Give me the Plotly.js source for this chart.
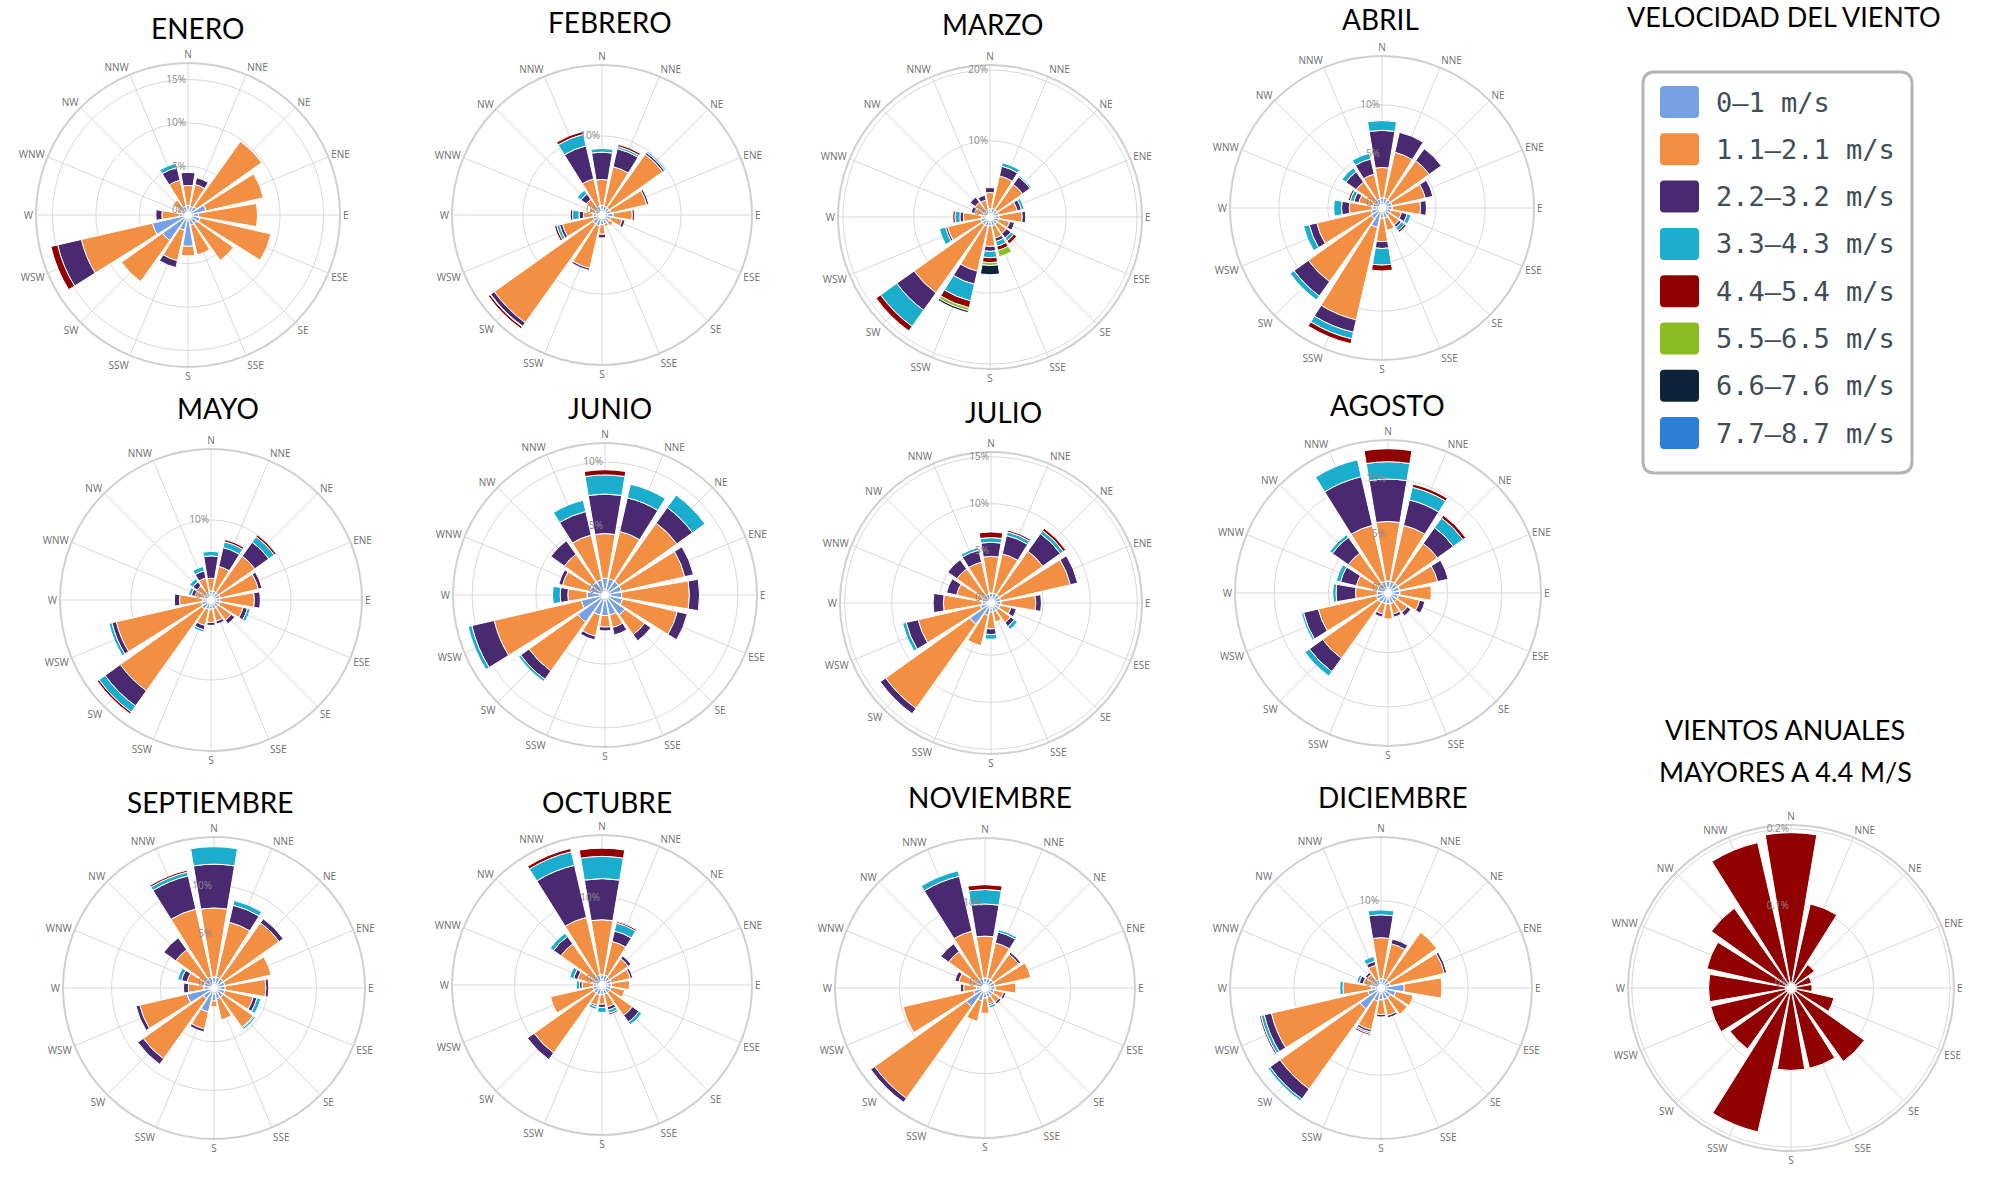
<!DOCTYPE html>
<html>
<head>
<meta charset="utf-8">
<script src="https://cdn.plot.ly/plotly-3.0.1.min.js"></script>
<style>
  html, body { margin: 0; padding: 0; background: #ffffff; }
  #chart { width: 1992px; height: 1178px; }
</style>
</head>
<body>
<div id="chart"></div>
<script>
// Compass sectors, clockwise from north
const directions = ['N','NNE','NE','ENE','E','ESE','SE','SSE','S','SSW','SW','WSW','W','WNW','NW','NNW'];

// Wind speed classes and their colours
const speedBins = ['0–1 m/s','1.1–2.1 m/s','2.2–3.2 m/s','3.3–4.3 m/s','4.4–5.4 m/s','5.5–6.5 m/s','6.6–7.6 m/s','7.7–8.7 m/s'];
const binColors = ['#77a1e5','#f28f43','#492970','#1aadce','#910000','#8bbc21','#0d233a','#2f7ed8'];

// Monthly frequency (%) per direction; one row per speed class, in the order of speedBins
const enero = [
  [0.5,0.4,0.6,1.5,0.6,0.8,0.6,0.6,3.0,1.2,3.0,3.6,0.4,0.2,0.3,0.4],
  [2.3,2.6,9.2,6.8,6.8,8.4,5.2,3.5,1.1,3.6,5.8,8.4,2.0,0.5,1.2,3.1],
  [1.5,0.8,0,0,0,0,0,0,0,0.8,0,2.8,0.7,0,0,1.5],
  [0,0,0,0,0,0,0,0,0,0,0,0,0,0,0,0.5],
  [0,0,0,0,0,0,0,0,0,0,0,0.8,0,0,0,0]
];
const febrero = [
  [0.6,0.5,0.5,0.5,0.8,0.5,0.5,0.5,0.6,0.8,0.8,0.5,0.5,0.3,0.4,0.5],
  [3.5,5.5,8.9,5.0,2.6,1.6,0.6,0.4,1.3,5.9,16.4,4.3,1.3,0.8,1.5,3.8],
  [3.7,2.5,0.3,0.3,0.3,0.4,0,0,0.5,0.3,0.6,0.4,0.6,0,0.9,4.6],
  [0.5,0.3,0.2,0,0,0,0,0,0,0,0.1,0.4,0.9,0,0.6,1.6],
  [0,0.3,0,0,0,0,0,0,0,0,0.3,0.3,0.3,0,0,0.4]
];
const marzo = [
  [0.4,0.5,0.5,0.5,0.5,0.5,0.5,0.5,0.5,0.6,0.6,0.6,0.4,0.3,0.3,0.3],
  [2.3,4.7,4.4,2.7,3.3,1.6,1.6,1.8,2.9,6.5,11.8,4.8,2.6,1.2,1.5,1.4],
  [0.7,1.4,1.3,0.6,0.5,0.7,0.8,0.5,0.7,1.9,3.0,0.3,0.5,0.5,0.9,0.7],
  [0,0.5,0.2,0.4,0,0,0.5,0.7,0.9,2.4,2.8,0.9,0.7,0,0,0],
  [0,0,0,0,0,0,0.5,0.6,0.7,1.0,0.8,0,0.3,0,0,0],
  [0,0,0,0,0,0,0,0.9,0.4,0.4,0,0,0,0,0,0],
  [0,0,0,0,0,0,0,0,1.3,0.3,0,0,0,0,0,0]
];
const abril = [
  [0.5,0.5,0.5,0.5,0.5,0.4,0.4,0.5,0.5,1.5,0.8,0.6,0.4,0.4,0.4,0.4],
  [3.1,4.8,4.9,3.5,2.9,1.1,1.2,1.3,2.4,9.7,7.9,5.7,2.4,1.5,2.3,2.6],
  [3.8,2.1,1.5,0.8,0.6,0.6,0.3,0,0.7,1.3,1.8,0.8,0.8,0.5,1.3,1.6],
  [1.0,0,0,0,0,0.4,0.4,0,1.7,0.7,0.5,0.6,0.8,0.4,0.5,0.6],
  [0,0,0,0,0,0,0.2,0,0.6,0.5,0,0,0,0.2,0,0]
];
const mayo = [
  [0.5,0.5,0.5,0.5,0.5,0.5,0.5,0.5,0.5,0.6,0.8,0.6,0.4,0.3,0.3,0.3],
  [1.7,3.4,6.0,5.3,4.6,3.2,2.1,1.7,1.8,2.2,13.4,11.7,3.1,1.2,1.3,2.0],
  [3.0,2.6,2.3,0.5,0.8,0.6,0.6,0.4,0.4,0.6,2.5,0.6,0.7,0.5,0.7,1.0],
  [0.6,0.8,0.9,0,0,0.4,0,0,0,0.3,1.0,0.4,0,0.4,0.5,0.6],
  [0,0.3,0.3,0,0,0,0,0,0,0,0.3,0,0,0,0,0]
];
const junio = [
  [0.9,0.9,0.9,0.9,0.9,1.0,1.5,1.2,1.2,1.2,2.2,1.5,1.0,0.8,0.8,0.8],
  [3.5,3.8,5.6,5.1,5.3,4.4,1.9,1.0,0.9,1.7,4.7,7.0,1.5,2.2,2.7,3.6],
  [3.1,2.7,1.5,0.7,0.8,0.8,0.6,0.6,0.3,0.3,0.8,1.8,0.6,0.3,1.3,1.9],
  [1.5,1.1,1.2,0,0,0,0,0,0,0,0.2,0.3,0.6,0,0,0.9],
  [0.4,0,0,0,0,0,0,0,0,0,0,0,0,0,0,0]
];
const julio = [
  [0.5,0.5,0.5,0.5,0.5,0.4,0.4,0.4,0.4,0.8,2.2,0.6,0.4,0.4,0.4,0.4],
  [3.9,4.3,5.7,7.6,3.7,1.2,1.6,1.1,1.8,3.3,11.0,6.8,4.1,2.8,3.5,3.5],
  [1.5,2.0,2.3,0.8,0.6,0.6,0.5,0,0.6,0,0.7,1.3,1.1,1.1,1.2,1.3],
  [0.5,0.4,0.4,0,0,0,0.4,0,0.5,0,0,0.4,0,0,0,0.3],
  [0.6,0.2,0.3,0,0,0,0,0,0,0,0,0,0,0,0,0]
];
const agosto = [
  [0.6,0.6,0.6,0.6,0.6,0.5,0.5,0.5,0.5,0.5,0.6,0.6,0.5,0.5,0.5,0.6],
  [5.5,5.3,4.5,3.6,2.9,2.0,1.2,1.0,1.4,1.0,6.3,5.5,2.0,2.0,3.5,5.3],
  [3.9,2.4,1.8,1.0,0,0.5,0.4,0.3,0,0.3,1.5,1.4,1.8,1.5,1.8,4.6],
  [1.6,1.2,1.1,0,0,0,0,0,0,0,0.5,0.2,0.3,0.4,0.3,1.6],
  [1.2,0.3,0.3,0,0,0,0,0,0,0,0,0,0,0,0,0]
];
const septiembre = [
  [0.6,0.6,0.6,0.6,0.6,0.6,0.6,0.6,0.8,2.0,0.8,2.3,0.5,0.5,0.5,0.6],
  [7.1,5.8,7.1,4.9,4.2,3.0,3.8,2.2,0.6,1.8,7.6,5.0,1.6,1.8,3.8,7.2],
  [4.5,1.8,0.5,0,0.3,0.4,0.1,0,0,0.3,0.7,0.4,0.5,0.6,1.5,3.5],
  [1.8,0.5,0,0,0,0.4,0.2,0,0,0,0,0,0,0.4,0,0.4],
  [0,0,0,0,0,0,0,0,0,0,0,0,0,0,0,0.2]
];
const octubre = [
  [0.6,0.6,0.5,0.5,0.5,0.5,0.5,0.5,0.5,0.6,0.6,0.5,0.4,0.4,0.5,0.6],
  [6.7,4.2,2.8,2.4,2.2,1.7,3.4,1.6,1.2,1.3,8.9,5.3,1.4,2.0,5.0,7.2],
  [5.0,1.3,0.4,0.3,0,0,1.0,0.4,0.4,0.2,1.0,0,0.3,0.5,1.1,6.5],
  [2.7,1.0,0,0,0,0,0.4,0.4,0.6,0.3,0,0,0.4,0.5,0.5,1.7],
  [1.0,0.2,0,0,0,0,0,0.2,0,0,0,0,0,0,0,0.4]
];
const noviembre = [
  [0.6,0.6,0.6,0.6,0.6,0.5,0.5,0.5,0.6,1.0,2.2,0.8,0.4,0.4,0.5,0.6],
  [5.2,4.5,3.9,4.6,2.6,1.2,1.0,0.9,1.9,2.6,14.0,9.0,1.6,2.3,4.4,6.0],
  [4.0,1.4,0.3,0,0,0.3,0.3,0.2,0,0,0.6,0,0.4,0.5,1.2,7.0],
  [1.8,0.3,0,0,0,0,0,0.3,0,0,0,0,0,0,0,0.7],
  [0.6,0,0,0,0,0,0,0,0,0,0,0,0,0,0,0]
];
const diciembre = [
  [0.5,0.5,0.5,0.5,2.2,1.2,0.8,0.8,0.8,1.0,2.5,1.0,0.5,0.4,0.4,0.4],
  [5.0,4.4,7.2,6.8,4.6,2.2,2.5,2.0,1.8,3.6,12.0,12.1,3.5,1.2,1.0,1.8],
  [2.8,0.6,0,0.3,0,0,0,0.3,0.3,0.3,1.5,0.9,0,0.5,0.3,0.5],
  [0.6,0,0,0,0,0,0,0,0,0.2,0.3,0.4,0.4,0.3,0,0.6],
  [0,0,0,0,0,0,0,0,0,0.2,0,0.2,0,0,0,0]
];

// Yearly frequency (%) of winds above 4.4 m/s
const anualMayor44 = [0.195,0.105,0.03,0.02,0.02,0.05,0.11,0.10,0.10,0.185,0.09,0.10,0.10,0.105,0.12,0.187];

const monthNames = ['ENERO','FEBRERO','MARZO','ABRIL','MAYO','JUNIO','JULIO','AGOSTO','SEPTIEMBRE','OCTUBRE','NOVIEMBRE','DICIEMBRE'];
const monthData = [enero, febrero, marzo, abril, mayo, junio, julio, agosto, septiembre, octubre, noviembre, diciembre];

// Radial axis extent and rings for each rose
const radialMax = [16.9, 19.6, 20.7, 15.0, 19.5, 11.5, 15.5, 13.6, 15.0, 17.6, 18.0, 17.8];
const radialTicks = [[0,5,10,15],[0,10],[0,10,20],[0,5,10],[0,10],[0,5,10],[0,5,10,15],[0,5,10],[0,5,10],[0,10],[0,10],[0,10]];

// Page placement of each rose (pixels): centre, radius, title position
const W = 1992, H = 1178;
const placement = [
  {cx:188,  cy:215, r:152, tx:197,  ty:28},
  {cx:602,  cy:215, r:150, tx:610,  ty:22},
  {cx:990,  cy:217, r:152, tx:992,  ty:24},
  {cx:1382, cy:208, r:152, tx:1380, ty:19},
  {cx:211,  cy:600, r:151, tx:218,  ty:408},
  {cx:605,  cy:595, r:152, tx:610,  ty:408},
  {cx:991,  cy:603, r:151, tx:1003, ty:412},
  {cx:1388, cy:593, r:153, tx:1387, ty:405},
  {cx:214,  cy:988, r:151, tx:210,  ty:802},
  {cx:602,  cy:985, r:150, tx:607,  ty:802},
  {cx:985,  cy:988, r:150, tx:990,  ty:797},
  {cx:1381, cy:988, r:151, tx:1393, ty:797}
];
const anualPlacement = {cx:1791, cy:988, r:163};

const gridColor = '#d9d9d9';
const labelColor = '#6e6e6e';

function domainFor(p) {
  return {
    x: [(p.cx - p.r) / W, (p.cx + p.r) / W],
    y: [1 - (p.cy + p.r) / H, 1 - (p.cy - p.r) / H]
  };
}

function polarLayout(p, max, ticks, fmt) {
  return {
    domain: domainFor(p),
    bgcolor: 'rgba(0,0,0,0)',
    hole: 0.035,
    bargap: 0.15,
    barmode: 'stack',
    angularaxis: {
      type: 'category',
      categoryarray: directions,
      rotation: 90,
      direction: 'clockwise',
      showline: true,
      linecolor: '#d0d0d0',
      linewidth: 2,
      gridcolor: gridColor,
      gridwidth: 1,
      ticks: '',
      layer: 'below traces',
      tickfont: {family: 'Open Sans, sans-serif', size: 10, color: labelColor}
    },
    radialaxis: {
      range: [0, max],
      tickvals: ticks,
      ticktext: ticks.map(fmt),
      angle: 90,
      tickangle: 90,
      side: 'counterclockwise',
      showline: false,
      ticks: '',
      gridcolor: gridColor,
      gridwidth: 1,
      layer: 'above traces',
      tickfont: {family: 'Open Sans, sans-serif', size: 10, color: '#8a8a8a'}
    }
  };
}

const traces = [];
const layout = {
  width: W, height: H,
  margin: {l: 0, r: 0, t: 0, b: 0},
  paper_bgcolor: '#ffffff',
  showlegend: false,
  annotations: [],
  shapes: []
};

monthData.forEach((rows, m) => {
  const key = m === 0 ? 'polar' : 'polar' + (m + 1);
  layout[key] = polarLayout(placement[m], radialMax[m], radialTicks[m], v => v + '%');
  rows.forEach((vals, b) => {
    traces.push({
      type: 'barpolar',
      subplot: key,
      name: speedBins[b],
      r: vals.map(v => (v > 0 ? v : null)),
      theta: directions,
      marker: {color: binColors[b], line: {color: '#ffffff', width: 1}},
      hoverinfo: 'skip'
    });
  });
  layout.annotations.push({
    xref: 'paper', yref: 'paper',
    x: placement[m].tx / W, y: 1 - placement[m].ty / H,
    xanchor: 'center', yanchor: 'middle',
    text: monthNames[m], showarrow: false,
    font: {family: 'Lato, sans-serif', size: 28, color: '#000000'}
  });
});

// Yearly rose of winds above 4.4 m/s
layout.polar13 = polarLayout(anualPlacement, 0.205, [0, 0.1, 0.2], v => v + '%');
traces.push({
  type: 'barpolar',
  subplot: 'polar13',
  name: speedBins[4],
  r: anualMayor44,
  theta: directions,
  marker: {color: binColors[4], line: {color: '#ffffff', width: 1}},
  hoverinfo: 'skip'
});
[['VIENTOS ANUALES', 729], ['MAYORES A 4.4 M/S', 771]].forEach(([t, y]) => {
  layout.annotations.push({
    xref: 'paper', yref: 'paper', x: 1785 / W, y: 1 - y / H,
    xanchor: 'center', yanchor: 'middle', text: t, showarrow: false,
    font: {family: 'Lato, sans-serif', size: 27, color: '#000000'}
  });
});

// Speed legend
function roundRectPath(x0, y0, x1, y1, rad) {
  const px = v => (v / W).toFixed(5);
  const py = v => (1 - v / H).toFixed(5);
  return 'M' + px(x0 + rad) + ',' + py(y0) +
    ' L' + px(x1 - rad) + ',' + py(y0) +
    ' Q' + px(x1) + ',' + py(y0) + ' ' + px(x1) + ',' + py(y0 + rad) +
    ' L' + px(x1) + ',' + py(y1 - rad) +
    ' Q' + px(x1) + ',' + py(y1) + ' ' + px(x1 - rad) + ',' + py(y1) +
    ' L' + px(x0 + rad) + ',' + py(y1) +
    ' Q' + px(x0) + ',' + py(y1) + ' ' + px(x0) + ',' + py(y1 - rad) +
    ' L' + px(x0) + ',' + py(y0 + rad) +
    ' Q' + px(x0) + ',' + py(y0) + ' ' + px(x0 + rad) + ',' + py(y0) + ' Z';
}

layout.annotations.push({
  xref: 'paper', yref: 'paper', x: 1784 / W, y: 1 - 16 / H,
  xanchor: 'center', yanchor: 'middle', text: 'VELOCIDAD DEL VIENTO', showarrow: false,
  font: {family: 'Lato, sans-serif', size: 27, color: '#000000'}
});
layout.shapes.push({
  type: 'path', xref: 'paper', yref: 'paper',
  path: roundRectPath(1643, 72, 1912, 473, 12),
  line: {color: '#b4b4b4', width: 3}, fillcolor: 'rgba(0,0,0,0)'
});
speedBins.forEach((label, i) => {
  const yc = 102 + i * 47.3;
  layout.shapes.push({
    type: 'path', xref: 'paper', yref: 'paper',
    path: roundRectPath(1660, yc - 16, 1699, yc + 16, 4),
    line: {width: 0}, fillcolor: binColors[i]
  });
  layout.annotations.push({
    xref: 'paper', yref: 'paper', x: 1714 / W, y: 1 - yc / H,
    xanchor: 'left', yanchor: 'middle', text: label, showarrow: false,
    font: {family: 'DejaVu Sans Mono, monospace', size: 27, color: '#3f4d58'}
  });
});

Plotly.newPlot('chart', traces, layout, {displayModeBar: false, staticPlot: true});
</script>
</body>
</html>
